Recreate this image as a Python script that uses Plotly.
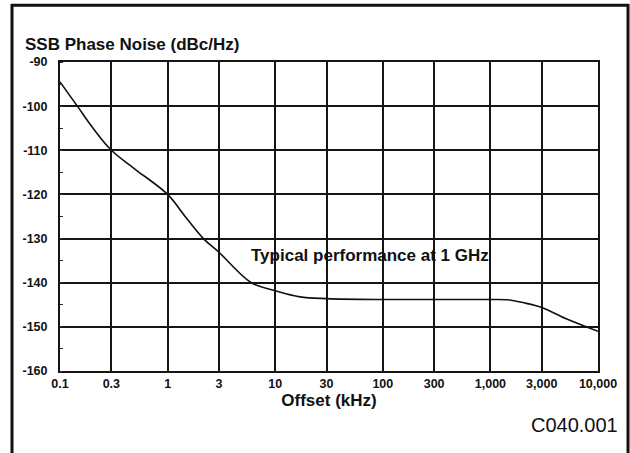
import numpy as np
import plotly.graph_objects as go

# Data
offset_khz = [0.1, 0.145, 0.2, 0.3, 0.5, 1, 1.5, 2.15, 3, 6, 10, 17, 30, 100, 300, 1000, 1500, 2000, 3000, 5000, 10000]
phase_noise = [-94.5, -100, -104.8, -110, -114.3, -120, -125.4, -130, -133.1, -140, -141.8, -143.2, -143.6, -143.8, -143.8, -143.8, -143.9, -144.5, -145.6, -148.1, -151]

x_tickvals = [0.1, 0.3, 1, 3, 10, 30, 100, 300, 1000, 3000, 10000]
x_ticktext = ["0.1", "0.3", "1", "3", "10", "30", "100", "300", "1,000", "3,000", "10,000"]
y_tickvals = [-160, -150, -140, -130, -120, -110, -100, -90]
y_ticktext = ["-160", "-150", "-140", "-130", "-120", "-110", "-100", "-90"]

FONT = "Liberation Sans, Arial, Helvetica, sans-serif"

fig = go.Figure()
fig.add_trace(go.Scatter(
    x=offset_khz, y=phase_noise, mode="lines",
    line=dict(color="#111111", width=1.6, shape="spline", smoothing=1.0),
    showlegend=False, hoverinfo="skip",
))

fig.update_layout(
    width=630, height=453,
    margin=dict(l=60, r=32, t=62, b=82),
    paper_bgcolor="white", plot_bgcolor="white",
    font=dict(family=FONT, color="#111111"),
    xaxis=dict(
        type="log", range=[-1, 4],
        tickvals=x_tickvals, ticktext=x_ticktext,
        tickfont=dict(size=12.5, weight="bold", family=FONT),
        showgrid=True, gridcolor="#151515", gridwidth=2,
        showline=True, linecolor="#151515", linewidth=2, mirror=True,
        ticks="", zeroline=False,
        title=dict(text="Offset (kHz)", font=dict(size=17, weight="bold", family=FONT), standoff=4),
    ),
    yaxis=dict(
        range=[-160, -90], tickvals=y_tickvals, ticktext=y_ticktext,
        tickfont=dict(size=12.5, weight="bold", family=FONT),
        showgrid=True, gridcolor="#151515", gridwidth=2,
        showline=True, linecolor="#151515", linewidth=2, mirror=True,
        ticks="", zeroline=False, ticklabelstandoff=8,
        minor=dict(dtick=5, ticks="inside", ticklen=3, tickcolor="#333333", tickwidth=1, showgrid=False),
    ),
    annotations=[
        dict(text="<b>SSB Phase Noise (dBc/Hz)</b>", xref="paper", yref="paper",
             x=-0.069, y=1.058, xanchor="left", yanchor="middle", showarrow=False,
             font=dict(size=17, family=FONT, color="#111111")),
        dict(text="<b>Typical performance at 1 GHz</b>", xref="x", yref="y",
             x=np.log10(5.7), y=-133.9, xanchor="left", yanchor="middle", showarrow=False,
             font=dict(size=17, family=FONT, color="#111111")),
        dict(text="C040.001", xref="paper", yref="paper",
             x=1.041, y=-0.175, xanchor="right", yanchor="middle", showarrow=False,
             font=dict(size=20, family=FONT, color="#111111")),
    ],
    shapes=[
        dict(type="path", xref="paper", yref="paper",
             path="M -0.0892,-0.35 L -0.0892,1.1835 L 1.0558,1.1835 L 1.0558,-0.35",
             line=dict(color="#111111", width=3)),
    ],
)

fig.write_html("out.html", config={"displayModeBar": False},
               post_script="document.body.style.margin='0';document.body.style.overflow='hidden';")
